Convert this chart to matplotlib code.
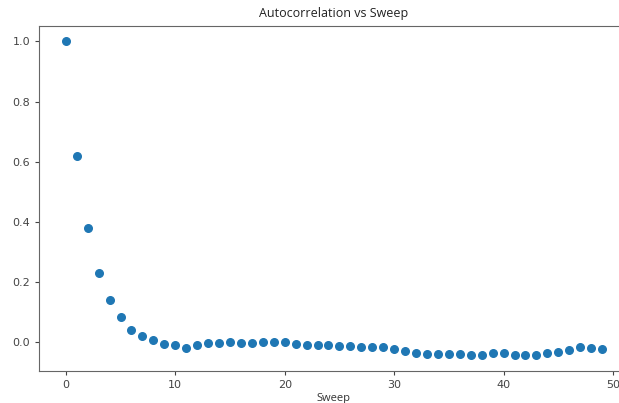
import matplotlib

matplotlib.use("Agg")
import matplotlib.pyplot as plt
import numpy as np

# autocorrelation, one value per sweep lag
sweeps = np.arange(50)
autocorr = [
    1.000, 0.619, 0.379, 0.230, 0.139, 0.082, 0.040, 0.019, 0.006, -0.008,
    -0.012, -0.020, -0.012, -0.005, -0.005, -0.002, -0.005, -0.005, -0.002, 0.001,
    -0.002, -0.007, -0.009, -0.009, -0.009, -0.013, -0.013, -0.017, -0.017, -0.017,
    -0.023, -0.030, -0.037, -0.040, -0.040, -0.040, -0.040, -0.044, -0.043, -0.037,
    -0.037, -0.044, -0.044, -0.043, -0.037, -0.033, -0.027, -0.017, -0.020, -0.023,
]

x_ticks = [0, 10, 20, 30, 40, 50]
y_ticks = [0.0, 0.2, 0.4, 0.6, 0.8, 1.0]


def main() -> None:
    figure = plt.figure(figsize=(6.19, 4.03), dpi=100)
    # the reference is cropped so the right spine falls just off the canvas
    axis = figure.add_axes([0.063, 0.080, 0.953, 0.856])

    axis.scatter(sweeps, autocorr, s=30, color="#1f77b4")

    axis.set_xticks(x_ticks)
    axis.set_yticks(y_ticks)
    axis.set_yticklabels([f"{v:.1f}" for v in y_ticks])
    axis.tick_params(labelsize=8, colors="#444444", length=3)
    for spine in axis.spines.values():
        spine.set_color("#666666")

    axis.set_title("Autocorrelation vs Sweep", fontsize=9, family="Open Sans", color="#222222")
    axis.set_xlabel("Sweep", fontsize=8, family="Open Sans", color="#333333", labelpad=2)

    figure.savefig("out.png", dpi=100)
    plt.close(figure)


if __name__ == "__main__":
    main()
